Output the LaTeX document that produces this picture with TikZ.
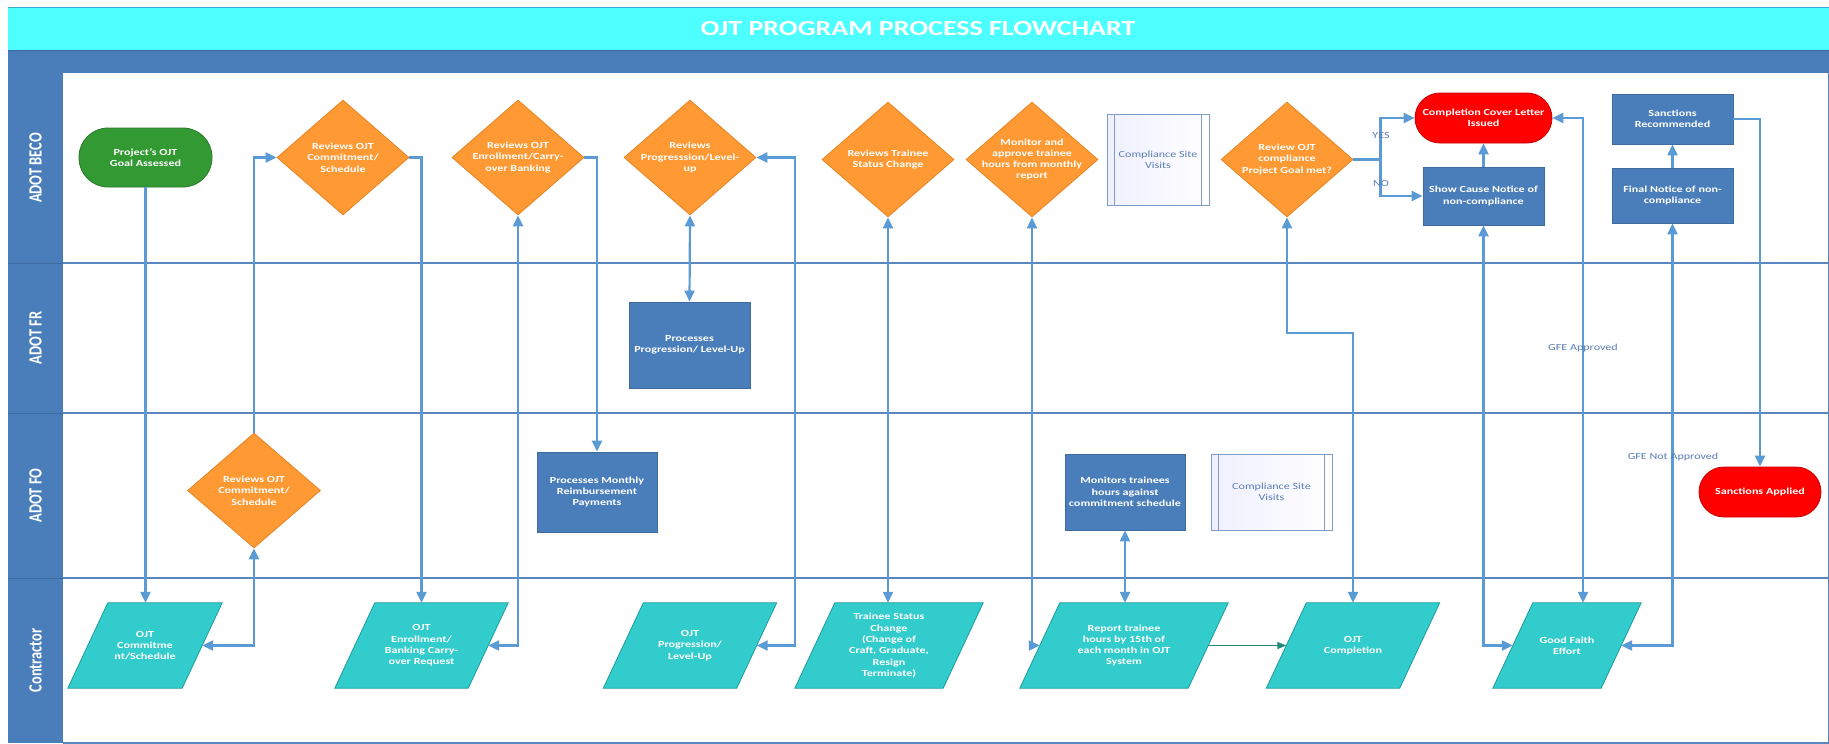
\documentclass[tikz,border=0pt]{standalone}
\usepackage{fontspec}
\usepackage{graphicx}
\setmainfont{Carlito}[FakeStretch=1.3]
\newfontfamily\lanefont{Carlito}
\usetikzlibrary{shapes.geometric,arrows.meta}
\definecolor{cyanT}{HTML}{4DFFFF}
\definecolor{cyanD}{HTML}{3FA9D6}
\definecolor{bandC}{HTML}{4A7EBB}
\definecolor{bandD}{HTML}{3D6CA3}
\definecolor{laneC}{HTML}{5B87C0}
\definecolor{lineC}{HTML}{5B9BD5}
\definecolor{orangeC}{HTML}{FF9933}
\definecolor{orangeD}{HTML}{E58526}
\definecolor{blueC}{HTML}{4A7EBB}
\definecolor{blueD}{HTML}{3E6C9F}
\definecolor{tealC}{HTML}{33CCCC}
\definecolor{tealD}{HTML}{1E9C9C}
\definecolor{tealL}{HTML}{1F8A7A}
\definecolor{greenC}{HTML}{339933}
\definecolor{greenD}{HTML}{2B7A2B}
\definecolor{redC}{HTML}{FF0000}
\definecolor{redD}{HTML}{C80000}
\definecolor{lblC}{HTML}{5A7DB5}
\definecolor{csvD}{HTML}{7F9CC8}
\newcommand\drawpara[1]{\filldraw[pshape] ([xshift=-20pt]#1.south west) -- ([xshift=-20pt]#1.south east) -- ([xshift=20pt]#1.north east) -- ([xshift=20pt]#1.north west) -- cycle;}
\begin{document}
\begin{tikzpicture}[x=1pt,y=-1pt,
  ntext/.style={font=\fontsize{9.3}{11.3}\selectfont\bfseries, text=white, align=center},
  conn/.style={draw=lineC, line width=2.2pt},
  arr/.style={conn, -{Triangle[length=11pt,width=10pt]}},
  darr/.style={conn, {Triangle[length=11pt,width=10pt]}-{Triangle[length=11pt,width=10pt]}},
  tarr/.style={draw=tealL, line width=1pt, -{Triangle[length=9pt,width=7pt]}},
  dia/.style={diamond, draw=orangeD, fill=orangeC, line width=0.8pt, minimum width=132pt, minimum height=115pt, inner sep=0pt},
  box/.style={rectangle, draw=blueD, fill=blueC, line width=0.8pt, ntext, inner sep=1pt},
  stad/.style={rectangle, line width=0.8pt, ntext, inner sep=0pt},
  pnode/.style={rectangle, minimum height=85pt, inner sep=0pt},
  pshape/.style={draw=tealD, fill=tealC, line width=0.8pt},
  csv/.style={rectangle, draw=csvD, line width=0.8pt, left color=blue!6, right color=white,
    font=\fontsize{9.3}{11.3}\selectfont, text=lblC, align=center, inner sep=0pt},
  csvline/.style={draw=csvD, line width=0.8pt},
  lanelab/.style={font=\lanefont\fontsize{14.4}{16}\selectfont\bfseries, text=white, inner sep=0pt},
  elab/.style={font=\fontsize{9.3}{11}\selectfont, text=lblC, inner sep=1pt},
  laneline/.style={draw=laneC, line width=1.6pt}
]
\useasboundingbox (0,0) rectangle (1829,744);
\fill[white] (0,0) rectangle (1829,744);
% title bar and band
\fill[cyanT] (8,7) rectangle (1829,50);
\draw[cyanD, line width=0.8pt] (8,7) -- (1829,7);
\fill[bandC] (8,50) rectangle (1829,73);
\draw[bandD, line width=1pt] (8,50) -- (1829,50);
\fill[bandC] (8,73) rectangle (63,743);
\foreach \yy in {263,413,578}{\draw[bandD, line width=1pt] (8,\yy) -- (63,\yy);}
% lane lines
\foreach \yy in {263,413,578,743}{\draw[laneline] (63,\yy) -- (1829,\yy);}
\draw[laneC, line width=1pt] (1828,73) -- (1828,743);

\node[font=\fontsize{21.5}{24}\selectfont\bfseries, text=white] (title) at (918,29) {OJT PROGRAM PROCESS FLOWCHART};

\node[lanelab] (lbeco) at (35.5,168) {\rotatebox{90}{\scalebox{1}[1.3]{ADOT BECO}}};
\node[lanelab] (lfr) at (35.5,338) {\rotatebox{90}{\scalebox{1}[1.3]{ADOT FR}}};
\node[lanelab] (lfo) at (35.5,495.5) {\rotatebox{90}{\scalebox{1}[1.3]{ADOT FO}}};
\node[lanelab] (lcon) at (35.5,660.5) {\rotatebox{90}{\scalebox{1}[1.3]{Contractor}}};

% ADOT BECO lane
\node[stad, fill=greenC, draw=greenD, rounded corners=29pt, minimum width=133pt, minimum height=59pt] (n1) at (145.5,157.5) {Project's OJT\\Goal Assessed};
\node[dia, label={[ntext]center:{Reviews OJT\\Commitment/\\Schedule}}] (d2) at (343,157.5) {};
\node[dia, label={[ntext]center:{Reviews OJT\\Enrollment/Carry-\\over Banking}}] (d3) at (518,157.5) {};
\node[dia, label={[ntext]center:{Reviews\\Progresssion/Level-\\up}}] (d4) at (690,157.5) {};
\node[dia, label={[ntext]center:{Reviews Trainee\\Status Change}}] (d5) at (888,159.5) {};
\node[dia, label={[ntext]center:{Monitor and\\approve trainee\\hours from monthly\\report}}] (d6) at (1032,159.5) {};
\node[csv, minimum width=102pt, minimum height=91pt] (csv1) at (1158,159.5) {Compliance Site\\Visits};
\draw[csvline] ([xshift=8pt]csv1.north west) -- ([xshift=8pt]csv1.south west);
\draw[csvline] ([xshift=-8pt]csv1.north east) -- ([xshift=-8pt]csv1.south east);
\node[dia, label={[ntext]center:{Review OJT\\compliance\\Project Goal met?}}] (d8) at (1287,159.5) {};
\node[stad, fill=redC, draw=redD, rounded corners=25pt, minimum width=137pt, minimum height=50pt] (comp) at (1483.5,118) {Completion Cover Letter\\Issued};
\node[box, minimum width=121pt, minimum height=58pt] (sc) at (1483.5,196) {Show Cause Notice of\\non-compliance};
\node[box, minimum width=121pt, minimum height=50pt] (sr) at (1672.5,119) {Sanctions\\Recommended};
\node[box, minimum width=121pt, minimum height=55pt] (fn) at (1672.5,195.5) {Final Notice of non-\\compliance};

% ADOT FR lane
\node[box, minimum width=121pt, minimum height=86pt] (frb) at (689.5,345) {Processes\\Progression/ Level-Up};

% ADOT FO lane
\node[dia, minimum width=133pt, label={[ntext]center:{Reviews OJT\\Commitment/\\Schedule}}] (fod) at (254,490.5) {};
\node[box, minimum width=120pt, minimum height=80pt] (pm) at (597,492) {Processes Monthly\\Reimbursement\\Payments};
\node[box, minimum width=120pt, minimum height=76pt] (mon) at (1125,492) {Monitors trainees\\hours against\\commitment schedule};
\node[csv, minimum width=121pt, minimum height=76pt] (csv2) at (1271.5,492) {Compliance Site\\Visits};
\draw[csvline] ([xshift=8pt]csv2.north west) -- ([xshift=8pt]csv2.south west);
\draw[csvline] ([xshift=-8pt]csv2.north east) -- ([xshift=-8pt]csv2.south east);
\node[stad, fill=redC, draw=redD, rounded corners=25pt, minimum width=122pt, minimum height=50pt] (sa) at (1760,492) {Sanctions Applied};

% Contractor lane: data (parallelogram) shapes
\node[pnode, minimum width=114pt] (p1) at (145,645.5) {};
\drawpara{p1}
\node[ntext] (p1t) at (p1) {OJT\\Commitme\\nt/Schedule};
\node[pnode, minimum width=133pt] (p2) at (421.5,645.5) {};
\drawpara{p2}
\node[ntext] (p2t) at (p2) {OJT\\Enrollment/\\Banking Carry-\\over Request};
\node[pnode, minimum width=133pt] (p3) at (690,645.5) {};
\drawpara{p3}
\node[ntext] (p3t) at (p3) {OJT\\Progression/\\Level-Up};
\node[pnode, minimum width=148pt] (p4) at (889,645.5) {};
\drawpara{p4}
\node[ntext] (p4t) at (p4) {Trainee Status\\Change\\(Change of\\Craft, Graduate,\\Resign\\Terminate)};
\node[pnode, minimum width=168pt] (p5) at (1124,645.5) {};
\drawpara{p5}
\node[ntext] (p5t) at (p5) {Report trainee\\hours by 15th of\\each month in OJT\\System};
\node[pnode, minimum width=133pt] (p6) at (1353,645.5) {};
\drawpara{p6}
\node[ntext] (p6t) at (p6) {OJT\\Completion};
\node[pnode, minimum width=108pt] (p7) at (1567,645.5) {};
\drawpara{p7}
\node[ntext] (p7t) at (p7) {Good Faith\\Effort};

% bend coordinates
\coordinate (k3) at (795,157.5);
\coordinate (k8) at (1353,333);
\coordinate (br) at (1380.5,159.5);
\coordinate (kq) at (1583,400);

% connectors
\draw[arr] (n1.south) -- (n1.south |- p1.north);
\draw[darr] (p1.east) -| (fod.south);
\draw[arr] (fod.north) |- (d2.west);
\draw[arr] (d2.east) -| (p2.north);
\draw[darr] (p2.east) -| (d3.south);
\draw[arr] (d3.east) -| (pm.north);
\draw[darr] (d4.south) -- (frb.north);
\draw[darr] (p3.east) -| (k3) -- (d4.east);
\draw[darr] (d5.south) -- (d5.south |- p4.north);
\draw[darr] (d6.south) |- (p5.west);
\draw[darr] (mon.south) -- (mon.south |- p5.north);
\draw[tarr] (p5.east) -- (p6.west);
\draw[darr] (d8.south) |- (k8) -- (p6.north);
\draw[conn] (d8.east) -- (br);
\draw[arr] (br) |- (comp.west);
\draw[arr] (br) |- (sc.west);
\draw[arr] (sc.north) -- (comp.south);
\draw[darr] (sc.south) |- (p7.west);
\draw[darr] (comp.east) -| (kq) -- (kq |- p7.north);
\draw[arr] (fn.north) -- (sr.south);
\draw[darr] (fn.south) |- (p7.east);
\draw[arr] (sr.east) -| (sa.north);

% edge labels
\node[elab] (lyes) at (1381,136) {YES};
\node[elab] (lno) at (1381,184) {NO};
\node[elab] (lgfa) at (1583,348) {GFE Approved};
\node[elab] (lgfn) at (1673,457) {GFE Not Approved};
\end{tikzpicture}
\end{document}
